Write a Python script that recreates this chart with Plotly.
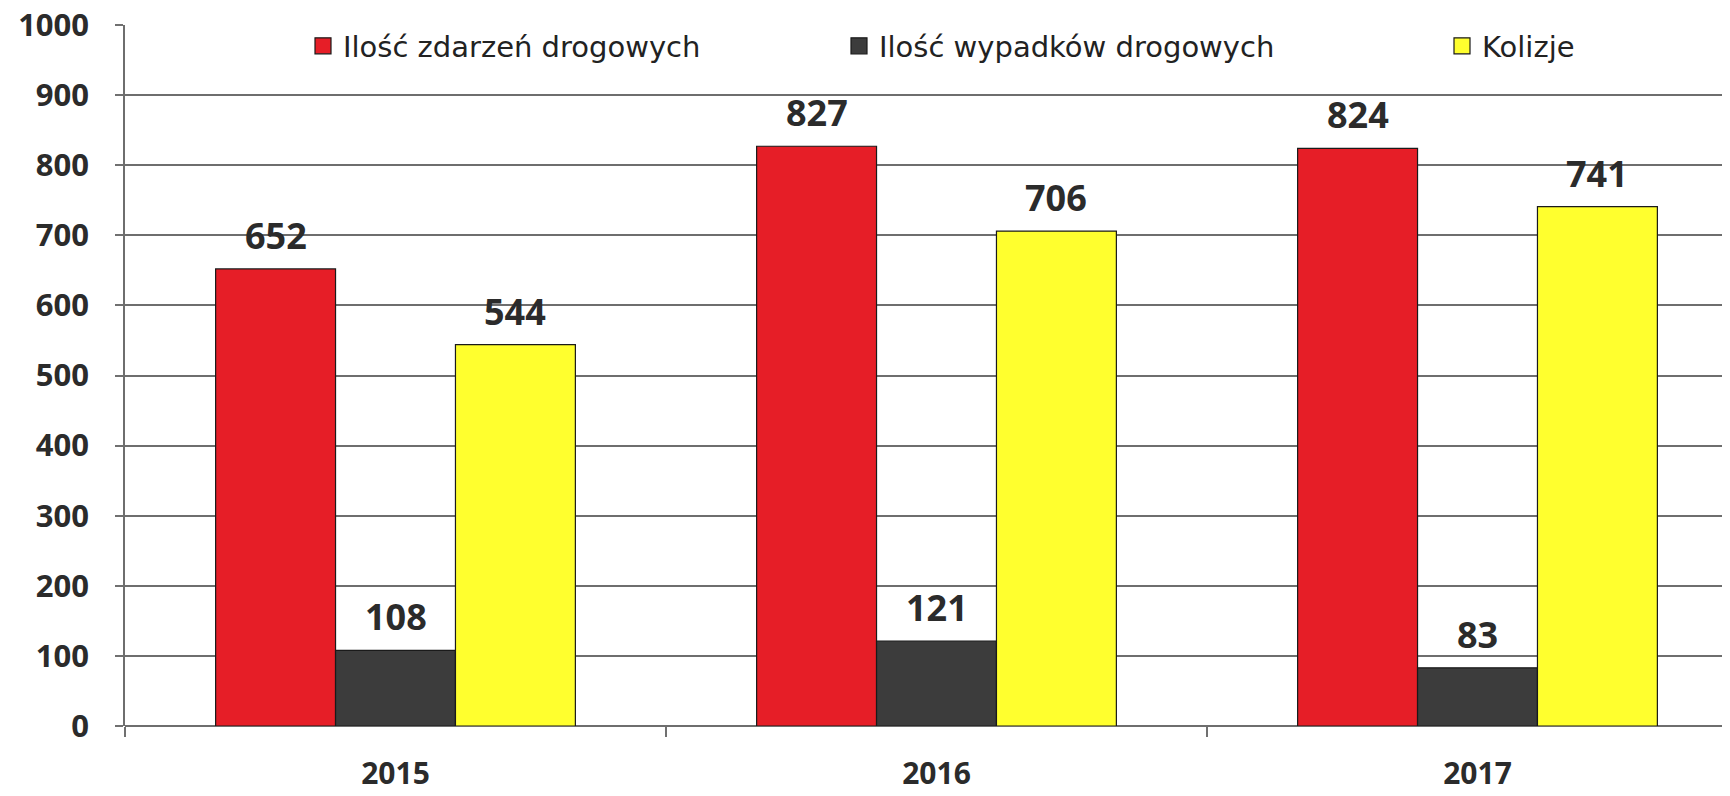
import plotly.graph_objects as go

years = ["2015", "2016", "2017"]
series_names = ["Ilość zdarzeń drogowych", "Ilość wypadków drogowych", "Kolizje"]
zdarzenia = [652, 827, 824]
wypadki = [108, 121, 83]
kolizje = [544, 706, 741]
y_ticks = [0, 100, 200, 300, 400, 500, 600, 700, 800, 900, 1000]

series_values = [zdarzenia, wypadki, kolizje]
colors = ["#E61E27", "#3C3C3C", "#FFFF2E"]

# page body has an 8px default margin, so figure coords = window coords - 8
OFF = 8
W, H = 1730 - OFF, 796 - OFF
legend_x = [303 - OFF, 839 - OFF, 1442 - OFF]
ml, mr, mt, mb = 125 - OFF, 0, 25 - OFF, 796 - 726
plot_w = W - ml - mr
plot_h = H - mt - mb
cat_px = 541.0
x_hi = -0.5 + plot_w / cat_px
bargap = 0.335
bar_px = cat_px * (1 - bargap) / 3

fig = go.Figure()
legend_keys = ["legend", "legend2", "legend3"]
for i, (name, vals, col) in enumerate(zip(series_names, series_values, colors)):
    fig.add_trace(go.Bar(
        x=years, y=vals, name=name,
        marker=dict(color=col, line=dict(color="#1a1a1a", width=1.2)),
        showlegend=False,
    ))
    fig.add_trace(go.Scatter(
        x=[None], y=[None], mode="markers", name=name,
        marker=dict(symbol="square", size=18, color=col, line=dict(color="#1a1a1a", width=1.2)),
        legend=legend_keys[i], showlegend=True,
    ))
    for j, yv in enumerate(vals):
        fig.add_annotation(
            x=j, y=yv, text="<b>%d</b>" % yv, showarrow=False,
            xref="x", yref="y", xanchor="center", yanchor="bottom",
            xshift=(i - 1) * bar_px, yshift=7,
            font=dict(family="Open Sans", size=36, color="#2b2b2b"),
        )

layout_legends = {}
for k, lx in zip(legend_keys, legend_x):
    layout_legends[k] = dict(
        orientation="h", xref="paper", yref="paper",
        x=(lx - ml) / plot_w, y=(H - mb - (46 - OFF)) / plot_h,
        xanchor="left", yanchor="middle",
        bgcolor="rgba(0,0,0,0)", borderwidth=0,
        font=dict(family="DejaVu Sans", size=29, color="#222222"),
    )

fig.update_layout(
    width=W, height=H,
    margin=dict(l=ml, r=mr, t=mt, b=mb, autoexpand=False),
    paper_bgcolor="white", plot_bgcolor="white",
    barmode="group", bargap=bargap, bargroupgap=0,
    **layout_legends,
)
fig.update_xaxes(
    type="category", range=[-0.5, x_hi], automargin=False,
    tickson="boundaries", ticks="outside", ticklen=10, tickcolor="#707070", tickwidth=1.5,
    showline=False, showgrid=False, ticklabeloverflow="allow",
    tickfont=dict(family="Open Sans", size=30, color="#2b2b2b", weight="bold"),
    ticklabelstandoff=27,
)
fig.update_yaxes(
    range=[0, 1000], tickvals=y_ticks, automargin=False,
    ticks="outside", ticklen=8, tickcolor="#707070", tickwidth=1.5,
    showgrid=True, gridcolor="#6e6e6e", gridwidth=1.5,
    showline=True, linecolor="#6e6e6e", linewidth=1.5,
    zeroline=True, zerolinecolor="#6e6e6e", zerolinewidth=1.5,
    ticklabeloverflow="allow",
    tickfont=dict(family="Open Sans", size=31, color="#2b2b2b", weight="bold"),
    ticklabelstandoff=20,
)
fig.write_html("out.html")
